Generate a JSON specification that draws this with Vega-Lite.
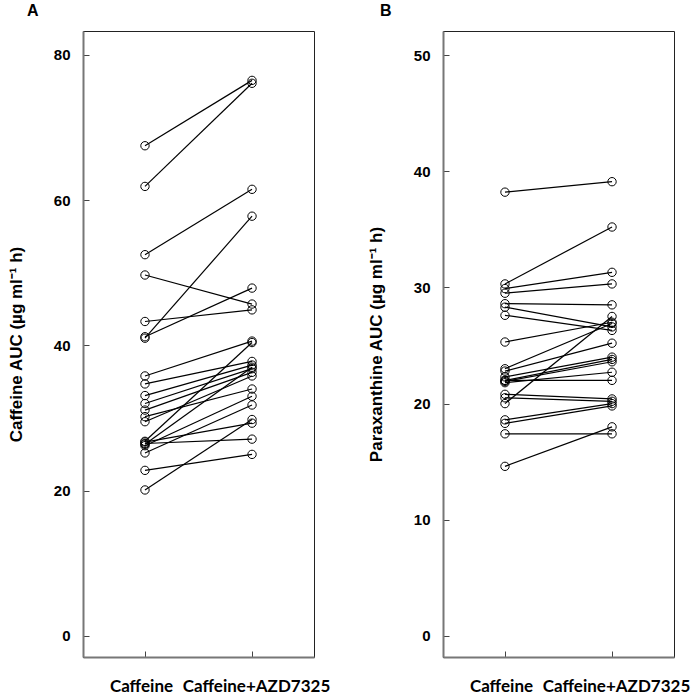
{
  "$schema": "https://vega.github.io/schema/vega-lite/v6.json",
  "padding": {"left": 6, "top": 2, "right": 5, "bottom": 0},
  "background": "white",
  "spacing": 129,
  "bounds": "flush",
  "config": {
    "view": {"stroke": "#222", "strokeWidth": 1},
    "axis": {"grid": false, "domainColor": "#777", "domainWidth": 2, "tickColor": "#444", "tickWidth": 1, "labelFont": "Liberation Sans", "labelFontWeight": "bold", "labelColor": "black", "titleColor": "black", "titleFont": "Liberation Sans", "titleFontWeight": "bold"},
    "title": {"font": "Liberation Sans", "fontWeight": "bold", "fontSize": 16, "color": "black"}
  },
  "datasets": {
    "A": [
      {"subject": 1, "treatment": "Caffeine", "auc": 67.5}, {"subject": 1, "treatment": "Caffeine+AZD7325", "auc": 76.5},
      {"subject": 2, "treatment": "Caffeine", "auc": 61.9}, {"subject": 2, "treatment": "Caffeine+AZD7325", "auc": 76.1},
      {"subject": 3, "treatment": "Caffeine", "auc": 52.5}, {"subject": 3, "treatment": "Caffeine+AZD7325", "auc": 61.5},
      {"subject": 4, "treatment": "Caffeine", "auc": 49.7}, {"subject": 4, "treatment": "Caffeine+AZD7325", "auc": 45.7},
      {"subject": 5, "treatment": "Caffeine", "auc": 43.3}, {"subject": 5, "treatment": "Caffeine+AZD7325", "auc": 44.9},
      {"subject": 6, "treatment": "Caffeine", "auc": 41.2}, {"subject": 6, "treatment": "Caffeine+AZD7325", "auc": 47.9},
      {"subject": 7, "treatment": "Caffeine", "auc": 41.0}, {"subject": 7, "treatment": "Caffeine+AZD7325", "auc": 57.8},
      {"subject": 8, "treatment": "Caffeine", "auc": 35.8}, {"subject": 8, "treatment": "Caffeine+AZD7325", "auc": 40.6},
      {"subject": 9, "treatment": "Caffeine", "auc": 34.7}, {"subject": 9, "treatment": "Caffeine+AZD7325", "auc": 37.8},
      {"subject": 10, "treatment": "Caffeine", "auc": 33.1}, {"subject": 10, "treatment": "Caffeine+AZD7325", "auc": 37.3},
      {"subject": 11, "treatment": "Caffeine", "auc": 32.0}, {"subject": 11, "treatment": "Caffeine+AZD7325", "auc": 36.8},
      {"subject": 12, "treatment": "Caffeine", "auc": 31.1}, {"subject": 12, "treatment": "Caffeine+AZD7325", "auc": 36.3},
      {"subject": 13, "treatment": "Caffeine", "auc": 30.2}, {"subject": 13, "treatment": "Caffeine+AZD7325", "auc": 34.0},
      {"subject": 14, "treatment": "Caffeine", "auc": 29.5}, {"subject": 14, "treatment": "Caffeine+AZD7325", "auc": 35.8},
      {"subject": 15, "treatment": "Caffeine", "auc": 26.8}, {"subject": 15, "treatment": "Caffeine+AZD7325", "auc": 40.4},
      {"subject": 16, "treatment": "Caffeine", "auc": 26.5}, {"subject": 16, "treatment": "Caffeine+AZD7325", "auc": 27.1},
      {"subject": 17, "treatment": "Caffeine", "auc": 26.4}, {"subject": 17, "treatment": "Caffeine+AZD7325", "auc": 37.0},
      {"subject": 18, "treatment": "Caffeine", "auc": 26.2}, {"subject": 18, "treatment": "Caffeine+AZD7325", "auc": 33.0},
      {"subject": 19, "treatment": "Caffeine", "auc": 25.2}, {"subject": 19, "treatment": "Caffeine+AZD7325", "auc": 31.8},
      {"subject": 20, "treatment": "Caffeine", "auc": 22.8}, {"subject": 20, "treatment": "Caffeine+AZD7325", "auc": 25.0},
      {"subject": 21, "treatment": "Caffeine", "auc": 20.1}, {"subject": 21, "treatment": "Caffeine+AZD7325", "auc": 29.8},
      {"subject": 22, "treatment": "Caffeine", "auc": 26.7}, {"subject": 22, "treatment": "Caffeine+AZD7325", "auc": 29.3}
    ],
    "B": [
      {"subject": 1, "treatment": "Caffeine", "auc": 38.2}, {"subject": 1, "treatment": "Caffeine+AZD7325", "auc": 39.1},
      {"subject": 2, "treatment": "Caffeine", "auc": 30.3}, {"subject": 2, "treatment": "Caffeine+AZD7325", "auc": 35.2},
      {"subject": 3, "treatment": "Caffeine", "auc": 29.9}, {"subject": 3, "treatment": "Caffeine+AZD7325", "auc": 31.3},
      {"subject": 4, "treatment": "Caffeine", "auc": 29.5}, {"subject": 4, "treatment": "Caffeine+AZD7325", "auc": 30.3},
      {"subject": 5, "treatment": "Caffeine", "auc": 28.6}, {"subject": 5, "treatment": "Caffeine+AZD7325", "auc": 28.5},
      {"subject": 6, "treatment": "Caffeine", "auc": 28.3}, {"subject": 6, "treatment": "Caffeine+AZD7325", "auc": 26.6},
      {"subject": 7, "treatment": "Caffeine", "auc": 27.6}, {"subject": 7, "treatment": "Caffeine+AZD7325", "auc": 26.3},
      {"subject": 8, "treatment": "Caffeine", "auc": 25.3}, {"subject": 8, "treatment": "Caffeine+AZD7325", "auc": 27.0},
      {"subject": 9, "treatment": "Caffeine", "auc": 23.0}, {"subject": 9, "treatment": "Caffeine+AZD7325", "auc": 26.9},
      {"subject": 10, "treatment": "Caffeine", "auc": 22.8}, {"subject": 10, "treatment": "Caffeine+AZD7325", "auc": 25.2},
      {"subject": 11, "treatment": "Caffeine", "auc": 22.3}, {"subject": 11, "treatment": "Caffeine+AZD7325", "auc": 24.0},
      {"subject": 12, "treatment": "Caffeine", "auc": 22.0}, {"subject": 12, "treatment": "Caffeine+AZD7325", "auc": 23.8},
      {"subject": 13, "treatment": "Caffeine", "auc": 21.9}, {"subject": 13, "treatment": "Caffeine+AZD7325", "auc": 23.6},
      {"subject": 14, "treatment": "Caffeine", "auc": 21.8}, {"subject": 14, "treatment": "Caffeine+AZD7325", "auc": 22.7},
      {"subject": 15, "treatment": "Caffeine", "auc": 22.0}, {"subject": 15, "treatment": "Caffeine+AZD7325", "auc": 22.0},
      {"subject": 16, "treatment": "Caffeine", "auc": 20.8}, {"subject": 16, "treatment": "Caffeine+AZD7325", "auc": 20.4},
      {"subject": 17, "treatment": "Caffeine", "auc": 20.5}, {"subject": 17, "treatment": "Caffeine+AZD7325", "auc": 20.2},
      {"subject": 18, "treatment": "Caffeine", "auc": 20.0}, {"subject": 18, "treatment": "Caffeine+AZD7325", "auc": 27.5},
      {"subject": 19, "treatment": "Caffeine", "auc": 18.6}, {"subject": 19, "treatment": "Caffeine+AZD7325", "auc": 20.0},
      {"subject": 20, "treatment": "Caffeine", "auc": 18.3}, {"subject": 20, "treatment": "Caffeine+AZD7325", "auc": 19.8},
      {"subject": 21, "treatment": "Caffeine", "auc": 17.4}, {"subject": 21, "treatment": "Caffeine+AZD7325", "auc": 17.4},
      {"subject": 22, "treatment": "Caffeine", "auc": 14.6}, {"subject": 22, "treatment": "Caffeine+AZD7325", "auc": 18.0}
    ]
  },
  "hconcat": [
    {
      "width": 231,
      "height": 626,
      "data": {"name": "A"},
      "title": {"text": "A", "anchor": "start", "frame": "group", "dx": -56, "offset": 12},
      "encoding": {
        "x": {"field": "treatment", "type": "nominal", "sort": ["Caffeine", "Caffeine+AZD7325"], "scale": {"type": "point", "padding": 0.579},
          "axis": {"title": null, "labelAngle": 0, "tickSize": -6, "labelPadding": 27, "labelFont": "Lato", "labelFontSize": 17, "labelBaseline": "top", "labelOffset": {"expr": "datum.value === 'Caffeine' ? -4 : 4"}}},
        "y": {"field": "auc", "type": "quantitative", "scale": {"domain": [-2.9, 83.3], "nice": false, "zero": false},
          "axis": {"values": [0, 20, 40, 60, 80], "tickSize": -6, "labelPadding": 19, "labelFontSize": 15, "title": "Caffeine AUC (µg ml⁻¹ h)", "titleFontSize": 17, "titlePadding": 28}}
      },
      "layer": [
        {"mark": {"type": "line", "color": "black", "strokeWidth": 1.2}, "encoding": {"detail": {"field": "subject", "type": "nominal"}}},
        {"mark": {"type": "point", "shape": "circle", "filled": false, "color": "black", "size": 70, "strokeWidth": 1, "opacity": 1}}
      ]
    },
    {
      "width": 231,
      "height": 626,
      "data": {"name": "B"},
      "title": {"text": "B", "anchor": "start", "frame": "group", "dx": -63, "offset": 12},
      "encoding": {
        "x": {"field": "treatment", "type": "nominal", "sort": ["Caffeine", "Caffeine+AZD7325"], "scale": {"type": "point", "padding": 0.579},
          "axis": {"title": null, "labelAngle": 0, "tickSize": -6, "labelPadding": 27, "labelFont": "Lato", "labelFontSize": 17, "labelBaseline": "top", "labelOffset": {"expr": "datum.value === 'Caffeine' ? -4 : 4"}}},
        "y": {"field": "auc", "type": "quantitative", "scale": {"domain": [-1.81, 52.07], "nice": false, "zero": false},
          "axis": {"values": [0, 10, 20, 30, 40, 50], "tickSize": -6, "labelPadding": 19, "labelFontSize": 15, "title": "Paraxanthine AUC (µg ml⁻¹ h)", "titleFontSize": 17, "titlePadding": 28}}
      },
      "layer": [
        {"mark": {"type": "line", "color": "black", "strokeWidth": 1.2}, "encoding": {"detail": {"field": "subject", "type": "nominal"}}},
        {"mark": {"type": "point", "shape": "circle", "filled": false, "color": "black", "size": 70, "strokeWidth": 1, "opacity": 1}}
      ]
    }
  ]
}
